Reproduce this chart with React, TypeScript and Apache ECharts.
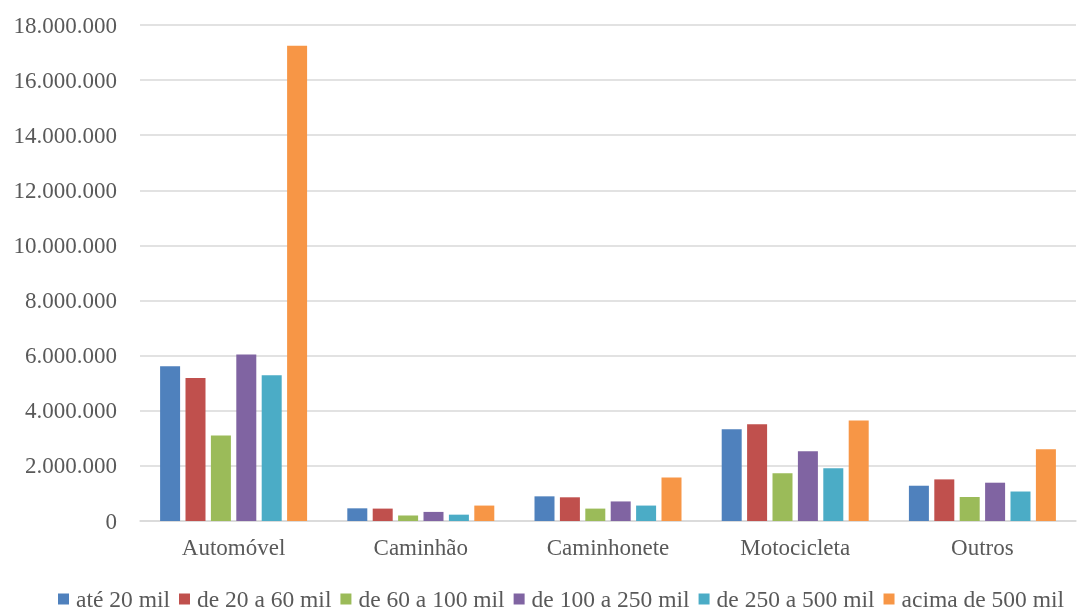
import React, { useEffect, useRef } from "react";
import * as echarts from "echarts";

const categories = ["Automóvel", "Caminhão", "Caminhonete", "Motocicleta", "Outros"];
const seriesNames = ["até 20 mil", "de 20 a 60 mil", "de 60 a 100 mil", "de 100 a 250 mil", "de 250 a 500 mil", "acima de 500 mil"];
const ate20 = [5620000, 460000, 895000, 3330000, 1280000];
const de20a60 = [5190000, 450000, 860000, 3510000, 1510000];
const de60a100 = [3100000, 200000, 450000, 1730000, 870000];
const de100a250 = [6040000, 330000, 710000, 2530000, 1390000];
const de250a500 = [5290000, 230000, 560000, 1910000, 1070000];
const acima500 = [17250000, 560000, 1580000, 3650000, 2600000];
const colors = ["#4F81BD", "#C0504D", "#9BBB59", "#8064A2", "#4BACC6", "#F79646"];
const yTicks = { min: 0, max: 18000000, interval: 2000000 };

const fmt = (v: number) => String(Math.round(v)).replace(/\B(?=(\d{3})+(?!\d))/g, ".");

export default function App() {
  const ref = useRef<HTMLDivElement>(null);
  useEffect(() => {
    if (!ref.current) return;
    const chart = echarts.init(ref.current, undefined, { renderer: "svg" });
    const data = [ate20, de20a60, de60a100, de100a250, de250a500, acima500];
    const font = "'Liberation Serif', 'Times New Roman', serif";
    chart.setOption({
      animation: false,
      color: colors,
      textStyle: { fontFamily: font },
      grid: { left: 140, right: 10, top: 25, bottom: 91 },
      legend: {
        top: 587,
        left: 58,
        padding: 0,
        itemWidth: 11,
        itemHeight: 11,
        itemGap: 9,
        icon: "rect",
        textStyle: { fontFamily: font, fontSize: 23.5, color: "#595959", padding: [0, 0, 0, 2] },
        data: seriesNames,
      },
      xAxis: {
        type: "category",
        data: categories,
        axisLine: { lineStyle: { color: "#d9d9d9", width: 1.5 } },
        axisTick: { show: false },
        axisLabel: { fontFamily: font, fontSize: 23, color: "#595959", margin: 15 },
      },
      yAxis: {
        type: "value",
        min: yTicks.min,
        max: yTicks.max,
        interval: yTicks.interval,
        axisLine: { show: false },
        axisTick: { show: false },
        splitLine: { lineStyle: { color: "#d9d9d9", width: 1.5 } },
        axisLabel: { fontFamily: font, fontSize: 23, color: "#595959", margin: 23, formatter: (v: number) => fmt(v) },
      },
      series: seriesNames.map((name, i) => ({
        name,
        type: "bar",
        data: data[i],
        barWidth: 20,
        barGap: "27%",
        itemStyle: { color: colors[i] },
      })),
    });
    return () => chart.dispose();
  }, []);
  return <div ref={ref} style={{ position: "fixed", left: 0, top: 0, width: 1086, height: 612 }} />;
}
